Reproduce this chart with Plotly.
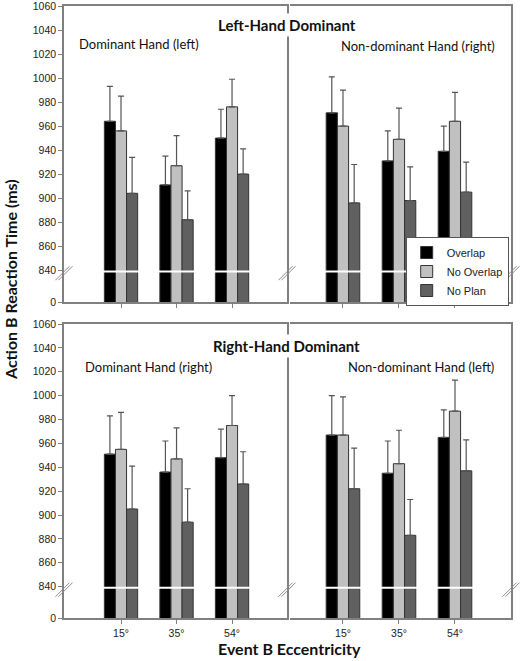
import plotly.graph_objects as go

W, H = 520, 661

# ---------------- data ----------------
eccentricity = ["15°", "35°", "54°"]
conditions = ["Overlap", "No Overlap", "No Plan"]

# Left-hand dominant, dominant hand (left)
lhd_dom_overlap = [964, 911, 950]
lhd_dom_nooverlap = [956, 927, 976]
lhd_dom_noplan = [904, 882, 920]
lhd_dom_overlap_err = [29, 24, 24]
lhd_dom_nooverlap_err = [29, 25, 23]
lhd_dom_noplan_err = [30, 24, 21]

# Left-hand dominant, non-dominant hand (right)
lhd_non_overlap = [971, 931, 939]
lhd_non_nooverlap = [960, 949, 964]
lhd_non_noplan = [896, 898, 905]
lhd_non_overlap_err = [30, 25, 21]
lhd_non_nooverlap_err = [30, 26, 24]
lhd_non_noplan_err = [32, 28, 25]

# Right-hand dominant, dominant hand (right)
rhd_dom_overlap = [951, 936, 948]
rhd_dom_nooverlap = [955, 947, 975]
rhd_dom_noplan = [905, 894, 926]
rhd_dom_overlap_err = [32, 26, 24]
rhd_dom_nooverlap_err = [31, 26, 25]
rhd_dom_noplan_err = [36, 28, 27]

# Right-hand dominant, non-dominant hand (left)
rhd_non_overlap = [967, 935, 965]
rhd_non_nooverlap = [967, 943, 987]
rhd_non_noplan = [922, 883, 937]
rhd_non_overlap_err = [33, 27, 23]
rhd_non_nooverlap_err = [32, 28, 26]
rhd_non_noplan_err = [34, 30, 26]

y_tick_values = [840, 860, 880, 900, 920, 940, 960, 980, 1000, 1020, 1040, 1060]
y_floor = 813.5          # broken-axis floor, labelled "0"
y_floor_label = "0"
break_level = 839

# ---------------- styling ----------------
bar_colors = {"Overlap": "#000000", "No Overlap": "#c0c0c0", "No Plan": "#606060"}
axis_color = "#808080"
tick_font = dict(family="Liberation Sans, Arial", size=10.5, color="#222")
title_family = "Lato, Open Sans, sans-serif"

def pxx(x):
    return x / W

def pxy(y):
    return 1 - y / H

panels = [
    dict(ax="", values=[lhd_dom_overlap, lhd_dom_nooverlap, lhd_dom_noplan],
         errs=[lhd_dom_overlap_err, lhd_dom_nooverlap_err, lhd_dom_noplan_err], legend=True),
    dict(ax="2", values=[lhd_non_overlap, lhd_non_nooverlap, lhd_non_noplan],
         errs=[lhd_non_overlap_err, lhd_non_nooverlap_err, lhd_non_noplan_err], legend=False),
    dict(ax="3", values=[rhd_dom_overlap, rhd_dom_nooverlap, rhd_dom_noplan],
         errs=[rhd_dom_overlap_err, rhd_dom_nooverlap_err, rhd_dom_noplan_err], legend=False),
    dict(ax="4", values=[rhd_non_overlap, rhd_non_nooverlap, rhd_non_noplan],
         errs=[rhd_non_overlap_err, rhd_non_nooverlap_err, rhd_non_noplan_err], legend=False),
]

fig = go.Figure()
for p in panels:
    for cond, vals, err in zip(conditions, p["values"], p["errs"]):
        fig.add_trace(go.Bar(
            x=eccentricity, y=vals, name=cond,
            xaxis="x" + p["ax"], yaxis="y" + p["ax"],
            marker=dict(color=bar_colors[cond], line=dict(color="#333333", width=1)),
            error_y=dict(type="data", symmetric=False, array=err,
                         arrayminus=[0] * len(err), color="#555555",
                         thickness=1.2, width=3),
            showlegend=p["legend"], legendgroup=cond,
        ))

xL = [pxx(64), pxx(287)]
xR = [pxx(290), pxx(511)]
yT = [pxy(302), pxy(6)]
yB = [pxy(618.3), pxy(324)]

tickvals = [y_floor] + y_tick_values
ticktext = [y_floor_label] + [str(v) for v in y_tick_values]
yrange = [y_floor, 1060]

def xaxis(domain, anchor, rng, labels):
    return dict(domain=domain, anchor=anchor, range=rng, showline=True, mirror=True,
                linecolor=axis_color, linewidth=1.5, ticks="outside", ticklen=4,
                tickcolor=axis_color, showgrid=False, zeroline=False, automargin=False,
                ticklabeloverflow="allow",
                showticklabels=labels, tickfont=tick_font, fixedrange=True)

def yaxis_left(domain, anchor):
    return dict(domain=domain, anchor=anchor, range=yrange, showline=True, mirror=True,
                linecolor=axis_color, linewidth=1.5, ticks="outside", ticklen=4,
                tickcolor=axis_color, tickvals=tickvals, ticktext=ticktext, automargin=False,
                ticklabeloverflow="allow",
                tickfont=tick_font, showgrid=False, zeroline=False)

def yaxis_right(domain, anchor):
    return dict(domain=domain, anchor=anchor, range=yrange, side="right", showline=True,
                mirror=False, linecolor=axis_color, linewidth=1.5, ticks="", automargin=False,
                showticklabels=False, showgrid=False, zeroline=False)

rngL = [-1.027, 2.99]
rngR = [-0.946, 3.0]

fig.update_layout(
    width=W, height=H, margin=dict(l=0, r=0, t=0, b=0, autoexpand=False),
    paper_bgcolor="white", plot_bgcolor="white",
    barmode="group", bargap=0.4, bargroupgap=0,
    xaxis=xaxis(xL, "y", rngL, False), yaxis=yaxis_left(yT, "x"),
    xaxis2=xaxis(xR, "y2", rngR, False), yaxis2=yaxis_right(yT, "x2"),
    xaxis3=xaxis(xL, "y3", rngL, True), yaxis3=yaxis_left(yB, "x3"),
    xaxis4=xaxis(xR, "y4", rngR, True), yaxis4=yaxis_right(yB, "x4"),
    legend=dict(x=pxx(405.7), y=pxy(237), xanchor="left", yanchor="top",
                bgcolor="white", bordercolor="#555555", borderwidth=1,
                font=dict(family="Liberation Sans, Arial", size=11, color="#222"),
                tracegroupgap=0, itemwidth=30),
)

shapes = []
# white break lines across the bars
for ax in ["", "2", "3", "4"]:
    shapes.append(dict(type="line", xref=f"x{ax} domain", yref=f"y{ax}",
                       x0=0.01, x1=0.99, y0=break_level, y1=break_level,
                       line=dict(color="white", width=2), layer="above"))
# "//" break marks on the vertical frame lines
for xref, anchor, yref in [("x domain", 0, "y"), ("x domain", 1, "y"), ("x2 domain", 1, "y2"),
                           ("x3 domain", 0, "y3"), ("x3 domain", 1, "y3"), ("x4 domain", 1, "y4")]:
    for off in (-1.5, 1.5):
        shapes.append(dict(type="line", xref=xref, yref=yref,
                           xsizemode="pixel", xanchor=anchor, x0=-7 + off, x1=7 + off,
                           ysizemode="pixel", yanchor=break_level - 1.5, y0=-7, y1=7,
                           line=dict(color="#8c8c8c", width=1), layer="above"))
fig.update_layout(shapes=shapes)

ann = []
ann.append(dict(text="<b>Left-Hand Dominant</b>", x=pxx(286.5), y=pxy(25), xref="paper", yref="paper",
                xanchor="center", yanchor="middle", showarrow=False, bgcolor="white", borderpad=2,
                font=dict(family=title_family, size=15, color="#111")))
ann.append(dict(text="<b>Right-Hand Dominant</b>", x=pxx(286.5), y=pxy(346), xref="paper", yref="paper",
                xanchor="center", yanchor="middle", showarrow=False, bgcolor="white", borderpad=2,
                font=dict(family=title_family, size=15, color="#111")))
sub_font = dict(family=title_family, size=13, color="#111")
ann.append(dict(text="Dominant Hand (left)", x=pxx(77), y=pxy(44), xref="paper", yref="paper",
                xanchor="left", yanchor="middle", showarrow=False, font=sub_font))
ann.append(dict(text="Non-dominant Hand (right)", x=pxx(497), y=pxy(46), xref="paper", yref="paper",
                xanchor="right", yanchor="middle", showarrow=False, font=sub_font))
ann.append(dict(text="Dominant Hand (right)", x=pxx(83), y=pxy(367), xref="paper", yref="paper",
                xanchor="left", yanchor="middle", showarrow=False, font=sub_font))
ann.append(dict(text="Non-dominant Hand (left)", x=pxx(496), y=pxy(367), xref="paper", yref="paper",
                xanchor="right", yanchor="middle", showarrow=False, font=sub_font))
ann.append(dict(text="<b>Action B Reaction Time (ms)</b>", x=pxx(11), y=pxy(280), xref="paper", yref="paper",
                xanchor="center", yanchor="middle", showarrow=False, textangle=-90,
                font=dict(family=title_family, size=16, color="#111")))
ann.append(dict(text="<b>Event B Eccentricity</b>", x=pxx(289), y=pxy(648), xref="paper", yref="paper",
                xanchor="center", yanchor="middle", showarrow=False,
                font=dict(family=title_family, size=16, color="#111")))
fig.update_layout(annotations=ann)

fig.write_html("out.html", config={"displayModeBar": False},
               post_script="document.body.style.margin='0px';document.body.style.overflow='hidden';")
